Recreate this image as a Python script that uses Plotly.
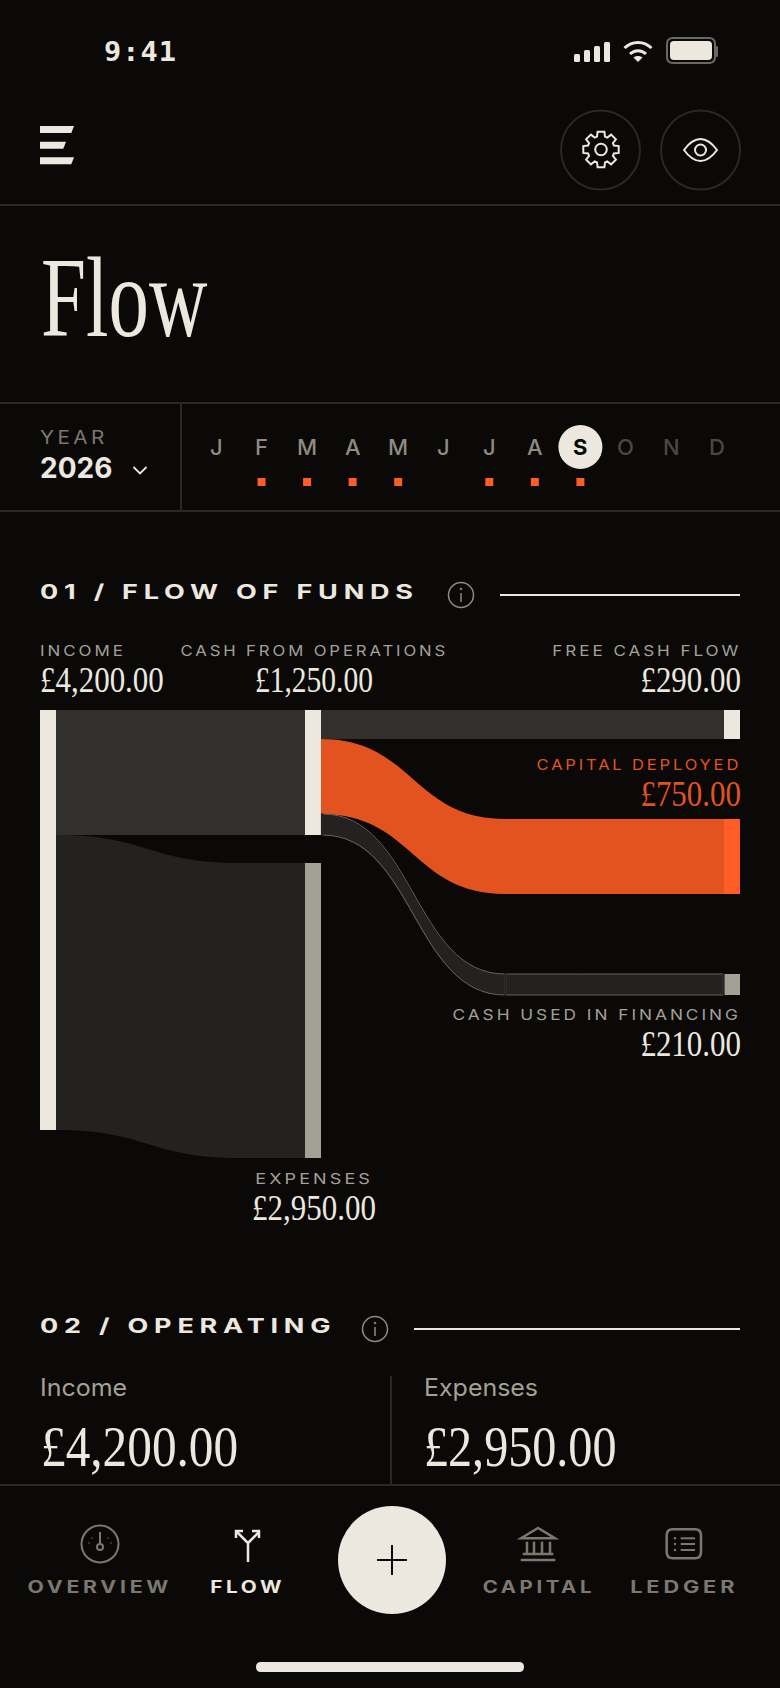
import math
import plotly.graph_objects as go

# ---------- data ----------
NODE_NAMES = ["Income", "Cash from operations", "Expenses", "Free cash flow",
              "Capital deployed", "Cash used in financing"]
INCOME = 4200.0
CASH_FROM_OPERATIONS = 1250.0
EXPENSES = 2950.0
FREE_CASH_FLOW = 290.0
CAPITAL_DEPLOYED = 750.0
CASH_USED_IN_FINANCING = 210.0

MONTHS = ["J", "F", "M", "A", "M", "J", "J", "A", "S", "O", "N", "D"]
MONTH_HAS_ACTIVITY = [0, 1, 1, 1, 1, 0, 1, 1, 1, 0, 0, 0]
SELECTED_MONTH = 8
YEAR = "2026"

NAV_LABELS = ["OVERVIEW", "FLOW", "CAPITAL", "LEDGER"]

# ---------- style ----------
W, H = 780, 1688
BG = "#0a0908"
INK = "#ece8df"
MUTED = "#a3a094"
DIM = "#7c786f"
FAINT = "#4a4843"
RULE = "#2a2826"
ORANGE = "#ff5c26"
ORANGE_LINK = "#e2531f"
LINK_A = "#32302c"
LINK_B = "#232220"
STROKE = "#65635d"
SERIF = "Liberation Serif"
SANS = "Inter"
MONO = "DejaVu Sans Mono"

PX_PER_UNIT = 0.1      # 420 px for the largest column
TOP = 710


def money(v):
    return "£{:,.2f}".format(v)


annotations = []
shapes = []


def txt(x, y, s, size, color, anchor="left", family=SANS, weight=400, spacing=0, sx=None):
    style = f"letter-spacing:{spacing}px"
    inner = f'<span style="{style}">{s}</span>' if spacing else s
    annotations.append(dict(
        x=x / W, y=1 - y / H, xref="paper", yref="paper", text=inner, showarrow=False,
        xanchor=anchor, yanchor="middle", align=anchor, borderpad=0, borderwidth=0,
        font=dict(family=family, size=size, color=color, weight=weight),
        name=f"sx:{sx}" if sx else "",
    ))


def line(x0, y0, x1, y1, color=RULE, width=2):
    shapes.append(dict(type="line", xref="x", yref="y", x0=x0, y0=y0, x1=x1, y1=y1,
                       line=dict(color=color, width=width), layer="above"))


def circle(cx, cy, r, fill="rgba(0,0,0,0)", color=None, width=0):
    shapes.append(dict(type="circle", xref="x", yref="y", x0=cx - r, x1=cx + r, y0=cy - r, y1=cy + r,
                       fillcolor=fill, line=dict(color=color or "rgba(0,0,0,0)", width=width), layer="above"))


def path(d, fill="rgba(0,0,0,0)", color=None, width=0):
    shapes.append(dict(type="path", xref="x", yref="y", path=d, fillcolor=fill,
                       line=dict(color=color or "rgba(0,0,0,0)", width=width), layer="above"))


def rrect(x0, y0, x1, y1, r):
    return (f"M{x0 + r} {y0} L{x1 - r} {y0} Q{x1} {y0} {x1} {y0 + r} L{x1} {y1 - r} Q{x1} {y1} {x1 - r} {y1} "
            f"L{x0 + r} {y1} Q{x0} {y1} {x0} {y1 - r} L{x0} {y0 + r} Q{x0} {y0} {x0 + r} {y0} Z")


# ---------- status bar ----------
txt(104, 51, "9:41", 27, INK, family=MONO, weight=700, spacing=1, sx=1.06)
for x0, top in zip([574, 584, 594, 604], [54, 50, 46, 42]):
    path(rrect(x0, top, x0 + 6, 62, 1.5), fill=INK)
path("M624.5 48 C632 40.5 644 40.5 651.5 48", color=INK, width=3)
path("M630 54 C634.5 49.5 641.5 49.5 646 54", color=INK, width=3)
path("M638 62 L633.5 57.5 C636 55.5 640 55.5 642.5 57.5 Z", fill=INK)
path(rrect(667, 38, 715, 63, 6), color="#6a6862", width=2)
path(rrect(670, 41, 712, 60, 4), fill=INK)
path(rrect(716, 46, 718, 57, 1), fill="#6a6862")

# ---------- top bar ----------
for y0, r0, r1 in [(126, 74, 71.3), (141.7, 66, 63.3), (157.3, 74, 71.3)]:
    path(f"M40 {y0} L{r0} {y0} L{r1} {y0 + 7} L40 {y0 + 7} Z", fill=INK)
circle(600.5, 150, 39.5, color=RULE, width=2)
circle(700.5, 150, 39.5, color=RULE, width=2)
# gear
gear = []
for i in range(8):
    a = i * math.pi / 4 - math.pi / 2
    for da, rad in [(-0.30, 13.5), (-0.19, 18), (0.19, 18), (0.30, 13.5)]:
        gear.append((601 + rad * math.cos(a + da), 149.5 + rad * math.sin(a + da)))
path("M" + " L".join(f"{x:.1f} {y:.1f}" for x, y in gear) + " Z", color=INK, width=2)
circle(601, 149.5, 5.8, color=INK, width=2)
# eye
path("M684 150 C690.5 141 695.5 139 700.5 139 C705.5 139 710.5 141 717 150 C710.5 159 705.5 161 700.5 161 C695.5 161 690.5 159 684 150 Z",
     color=INK, width=2)
circle(700.5, 150, 5.5, color=INK, width=2)
line(0, 205, W, 205)

# ---------- title ----------
txt(41, 298, "Flow", 114, INK, family=SERIF, sx=0.71)
line(0, 403, W, 403)
line(0, 511, W, 511)
line(181, 403, 181, 511)

# ---------- year / months ----------
txt(40, 437, "YEAR", 18, DIM, spacing=3, sx=1.15)
txt(40, 468, YEAR, 28, INK, weight=700)
path("M133.5 467 L140 473.5 L146.5 467", color=INK, width=1.8)
month_x = [216 + i * 45.55 for i in range(12)]
circle(month_x[SELECTED_MONTH], 447, 22, fill=INK)
for i, (m, mx) in enumerate(zip(MONTHS, month_x)):
    col = BG if i == SELECTED_MONTH else (FAINT if i > SELECTED_MONTH else "#8f8b80")
    txt(mx, 447, m, 22, col, anchor="center", weight=700 if i == SELECTED_MONTH else 500)


def section_header(y, text, info_x, line_x):
    txt(40, y - 3, text, 20, INK, weight=700, spacing=4.3, sx=1.35)
    circle(info_x, y, 12.5, color="#8f8b80", width=1.5)
    circle(info_x, y - 6, 1, fill="#8f8b80", color="#8f8b80", width=0.5)
    line(info_x, y - 2, info_x, y + 7, color="#8f8b80", width=1.5)
    line(line_x, y, 740, y, color=INK, width=2)


section_header(595, "01 / FLOW OF FUNDS", 461, 500)


def flow_label(x, y_lab, y_val, name, value, anchor, sx_lab, sx_val=0.86, color=MUTED, val_color=INK):
    txt(x, y_lab, name, 15, color, anchor=anchor, spacing=2.6, sx=sx_lab)
    txt(x, y_val, money(value), 36, val_color, anchor=anchor, family=SERIF, sx=sx_val)


flow_label(40, 650.5, 680, "INCOME", INCOME, "left", 1.13)
flow_label(314, 650.5, 680, "CASH FROM OPERATIONS", CASH_FROM_OPERATIONS, "center", 1.113, sx_val=0.82)
flow_label(741, 650.5, 680, "FREE CASH FLOW", FREE_CASH_FLOW, "right", 1.137)
flow_label(741, 764.5, 794, "CAPITAL DEPLOYED", CAPITAL_DEPLOYED, "right", 1.10, color=ORANGE_LINK, val_color=ORANGE_LINK)
flow_label(741, 1014.5, 1044, "CASH USED IN FINANCING", CASH_USED_IN_FINANCING, "right", 1.15)
flow_label(314, 1178, 1208, "EXPENSES", EXPENSES, "center", 1.2)

# ---------- section 2 ----------
section_header(1329, "02 / OPERATING", 375, 414)
txt(40, 1387, "Income", 24, MUTED, sx=1.04)
txt(424, 1387, "Expenses", 24, MUTED, sx=1.04)
txt(41, 1446, money(INCOME), 58, INK, family=SERIF, sx=0.85)
txt(424, 1446, money(EXPENSES), 58, INK, family=SERIF, sx=0.83)
line(391, 1376, 391, 1485)
line(0, 1485, W, 1485)

# ---------- bottom nav ----------
NAV_X = [100, 248, 539, 684]
NAV_SX = [1.25, 1.22, 1.2, 1.28]
for name, nx, col, nsx in zip(NAV_LABELS, NAV_X, [DIM, INK, DIM, DIM], NAV_SX):
    txt(nx, 1587, name, 17, col, anchor="center", weight=700, spacing=3, sx=nsx)
# overview
circle(100, 1544, 18.5, color=DIM, width=2)
line(100, 1532, 100, 1544, color=DIM, width=2)
circle(100, 1547, 3, color=DIM, width=2)
for dx, dy in [(89, 1543), (92, 1538), (108, 1538), (111, 1543)]:
    circle(dx, dy, 0.7, fill=DIM)
# flow
path("M248 1562 L248 1543 L237 1532 M248 1543 L259 1532", color=INK, width=2.5)
path("M243 1531 L236 1531 L236 1538 M252 1531 L259 1531 L259 1538", color=INK, width=2.5)
# add
circle(392, 1560, 54, fill=INK)
line(377, 1560, 407, 1560, color=BG, width=2)
line(392, 1545, 392, 1575, color=BG, width=2)
# capital
path("M538 1528 L521 1538.3 L555 1538.3 Z", color=DIM, width=2.5)
for cx in [527, 534, 542, 550]:
    line(cx, 1541.7, cx, 1553, color=DIM, width=2.5)
line(522.7, 1554, 553.3, 1554, color=DIM, width=2.5)
line(520.7, 1560, 555.3, 1560, color=DIM, width=2.5)
# ledger
path(rrect(666.7, 1529.3, 701, 1558.3, 6), color=DIM, width=2.5)
for ly in [1538.3, 1544, 1550]:
    line(680.7, ly, 695, ly, color=DIM, width=2)
    circle(675, ly, 1.2, fill=DIM)
# home bar
path(rrect(256, 1662, 524, 1672, 5), fill=INK)

# ---------- Sankey ----------
# column centres and tops, in page pixels
THICK = 16
COL_X = dict(income=48, ops=313, exp_via=248, exp=313, fcf=732, cap_via=513, cap=732, fin_via=513, fin=732)
NODE_TOP = dict(income=710, ops=710, exp_via=863, exp=863, fcf=710, cap_via=819, cap=819, fin_via=974, fin=974)

keys = ["income", "ops", "exp_via", "exp", "fcf", "cap_via", "cap", "fin_via", "fin"]
node_values = dict(income=INCOME, ops=CASH_FROM_OPERATIONS, exp_via=EXPENSES, exp=EXPENSES,
                   fcf=FREE_CASH_FLOW, cap_via=CAPITAL_DEPLOYED, cap=CAPITAL_DEPLOYED,
                   fin_via=CASH_USED_IN_FINANCING, fin=CASH_USED_IN_FINANCING)
node_colors = [INK, INK, LINK_B, "#a3a094", INK, ORANGE_LINK, ORANGE, LINK_B, "#a3a094"]
idx = {k: i for i, k in enumerate(keys)}
SANKEY_H = INCOME * PX_PER_UNIT

link_defs = [
    ("income", "ops", CASH_FROM_OPERATIONS, LINK_A),
    ("income", "exp_via", EXPENSES, LINK_B),
    ("exp_via", "exp", EXPENSES, LINK_B),
    ("ops", "fcf", FREE_CASH_FLOW, LINK_A),
    ("ops", "cap_via", CAPITAL_DEPLOYED, ORANGE_LINK),
    ("cap_via", "cap", CAPITAL_DEPLOYED, ORANGE_LINK),
    ("ops", "fin_via", CASH_USED_IN_FINANCING, LINK_B),
    ("fin_via", "fin", CASH_USED_IN_FINANCING, LINK_B),
]

sankey_a = go.Sankey(
    arrangement="fixed",
    domain=dict(x=[0, 1], y=[1 - (TOP + SANKEY_H) / H, 1 - TOP / H]),
    hoverinfo="none",
    node=dict(
        label=[""] * len(keys),
        customdata=keys,
        thickness=THICK, pad=0,
        line=dict(width=0),
        color=node_colors,
        x=[COL_X[k] / W for k in keys],
        y=[(NODE_TOP[k] + node_values[k] * PX_PER_UNIT / 2 - TOP) / SANKEY_H for k in keys],
        hoverinfo="none",
    ),
    link=dict(
        source=[idx[a] for a, b, v, c in link_defs],
        target=[idx[b] for a, b, v, c in link_defs],
        value=[v for a, b, v, c in link_defs],
        color=[c for a, b, v, c in link_defs],
        line=dict(width=0),
        hoverinfo="none",
    ),
)

# thin outline that runs round the financing ribbon
FIN_H = CASH_USED_IN_FINANCING * PX_PER_UNIT
FIN_SRC_TOP = 710 + (FREE_CASH_FLOW + CAPITAL_DEPLOYED) * PX_PER_UNIT
thin = 1
fin_y = (974 + FIN_H / 2 - FIN_SRC_TOP) / FIN_H
sankey_b = go.Sankey(
    arrangement="fixed",
    domain=dict(x=[0, 1], y=[1 - (FIN_SRC_TOP + FIN_H) / H, 1 - FIN_SRC_TOP / H]),
    hoverinfo="none",
    node=dict(
        label=["", "", ""],
        thickness=thin, pad=0,
        line=dict(width=1.2, color=LINK_B),
        color=[LINK_B, LINK_B, LINK_B],
        x=[322 / W, 505.5 / W, 723.5 / W],
        y=[0.5, fin_y, fin_y],
        hoverinfo="none",
    ),
    link=dict(
        source=[0, 1], target=[1, 2],
        value=[CASH_USED_IN_FINANCING, CASH_USED_IN_FINANCING],
        color=["rgba(0,0,0,0)", "rgba(0,0,0,0)"],
        line=dict(width=1, color=STROKE),
        hoverinfo="none",
    ),
)

# ---------- activity markers ----------
active_x = [mx for mx, a in zip(month_x, MONTH_HAS_ACTIVITY) if a]
markers = go.Scatter(x=active_x, y=[482] * len(active_x), mode="markers", hoverinfo="skip",
                     marker=dict(symbol="square", size=8, color=ORANGE, line=dict(width=0)),
                     showlegend=False)

fig = go.Figure([markers, sankey_a, sankey_b])
fig.update_layout(
    width=W, height=H, margin=dict(l=0, r=0, t=0, b=0), paper_bgcolor=BG, plot_bgcolor=BG,
    showlegend=False, annotations=annotations, shapes=shapes, hovermode=False,
    xaxis=dict(range=[0, W], visible=False, fixedrange=True, domain=[0, 1]),
    yaxis=dict(range=[H, 0], visible=False, fixedrange=True, domain=[0, 1]),
)

POST = """
document.documentElement.style.background='#0a0908';
document.body.style.margin='0';document.body.style.background='#0a0908';document.body.style.overflow='hidden';
function sxApply(){
 var gd=document.querySelector('.plotly-graph-div'); if(!gd||!gd.layout) return;
 gd.layout.annotations.forEach(function(a,i){
  var m=/sx:([\\d.]+)/.exec(a.name||''); if(!m) return;
  var t=document.querySelector('.annotation[data-index="'+i+'"] text'); if(!t) return;
  t.style.transformBox='fill-box';
  t.style.transformOrigin=a.xanchor+' center';
  t.style.transform='scaleX('+m[1]+')';
 });
}
sxApply(); setTimeout(sxApply,100);
"""
fig.write_html("out.html", post_script=POST, config={"displayModeBar": False})
